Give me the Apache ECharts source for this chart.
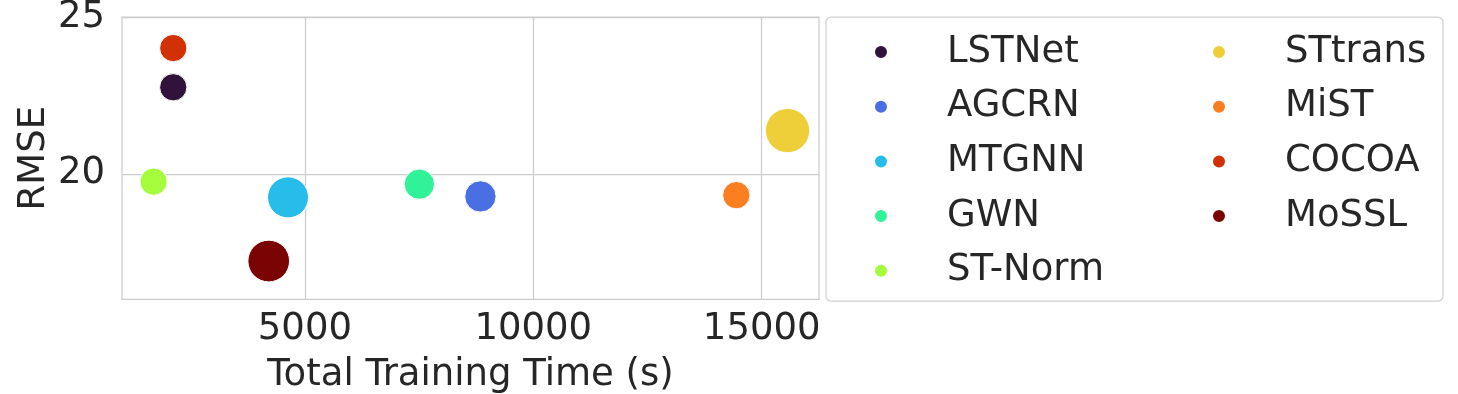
<!DOCTYPE html>
<html>
<head>
<meta charset="utf-8">
<script src="https://cdn.jsdelivr.net/npm/echarts@6/dist/echarts.min.js"></script>
<style>
html,body{margin:0;padding:0;background:#fff;}
#chart{width:1458px;height:394px;}
</style>
</head>
<body>
<div id="chart"></div>
<script>
// ---- data ----
const models = ['LSTNet','AGCRN','MTGNN','GWN','ST-Norm','STtrans','MiST','COCOA','MoSSL'];
const trainingTime = [2118, 8842, 4630, 7505, 1687, 15565, 14444, 2118, 4208];
const rmse = [22.76, 19.28, 19.25, 19.67, 19.75, 21.38, 19.32, 24.01, 17.22];
const markerArea = [745, 980, 1681, 918, 745, 1962, 745, 745, 1739];
const colors = ['#30123b','#4a6fe3','#28bceb','#31f299','#a4fc3c','#eecf3a','#fb7e21','#d23105','#7a0403'];
const xTicks = [5000, 10000, 15000];
const yTicks = [20, 25];
const legendCol1 = ['LSTNet','AGCRN','MTGNN','GWN','ST-Norm'];
const legendCol2 = ['STtrans','MiST','COCOA','MoSSL'];

const FONT = 'DejaVu Sans';
const TXT = '#262626';
const GRID = '#cccccc';

const series = models.map((m, i) => ({
  name: m,
  type: 'scatter',
  data: [[trainingTime[i], rmse[i], markerArea[i]]],
  symbol: 'circle',
  symbolSize: d => Math.sqrt(d[2]),
  itemStyle: { color: colors[i], opacity: 1, borderColor: '#ffffff', borderWidth: 1 },
  emphasis: { disabled: true },
  z: 3
}));

function legendCfg(data, left) {
  return {
    data: data.map(n => ({ name: n, icon: 'circle' })),
    orient: 'vertical',
    left: left,
    top: 30,
    padding: 0,
    itemWidth: 14,
    itemHeight: 14,
    itemGap: 10.7,
    selectedMode: false,
    textStyle: {
      fontFamily: FONT, fontSize: 37, color: TXT,
      lineHeight: 44, padding: [0, 0, 0, 54]
    }
  };
}

const chart = echarts.init(document.getElementById('chart'), null, { renderer: 'canvas' });
chart.setOption({
  animation: false,
  backgroundColor: '#ffffff',
  graphic: [{
    type: 'rect',
    shape: { x: 826, y: 17, width: 617, height: 284, r: 5 },
    style: { fill: '#ffffff', stroke: '#d0d0d0', lineWidth: 1.25 },
    z: -1
  }],
  grid: {
    left: 122, right: 639, top: 17, bottom: 94.7,
    containLabel: false,
    outerBoundsMode: 'none',
    show: true, borderColor: GRID, borderWidth: 1.25, backgroundColor: '#ffffff'
  },
  legend: [legendCfg(legendCol1, 873), legendCfg(legendCol2, 1211)],
  xAxis: {
    type: 'value',
    min: 996, max: 16254,
    name: 'Total Training Time (s)',
    nameLocation: 'middle',
    nameGap: 58,
    nameTextStyle: { fontFamily: FONT, fontSize: 37, color: TXT },
    axisLine: { show: false },
    axisTick: { show: false, customValues: xTicks },
    axisLabel: { customValues: xTicks, formatter: v => String(v), fontFamily: FONT, fontSize: 37, color: TXT, margin: 12 },
    splitLine: { show: true, lineStyle: { color: GRID, width: 1.25 } }
  },
  yAxis: {
    type: 'value',
    min: 16, max: 25,
    name: 'RMSE',
    nameLocation: 'middle',
    nameGap: 69,
    nameTextStyle: { fontFamily: FONT, fontSize: 37, color: TXT },
    axisLine: { show: false },
    axisTick: { show: false, customValues: yTicks },
    axisLabel: { customValues: yTicks, formatter: v => String(v), fontFamily: FONT, fontSize: 37, color: TXT, margin: 17 },
    splitLine: { show: true, lineStyle: { color: GRID, width: 1.25 } }
  },
  series: series
});
</script>
</body>
</html>
